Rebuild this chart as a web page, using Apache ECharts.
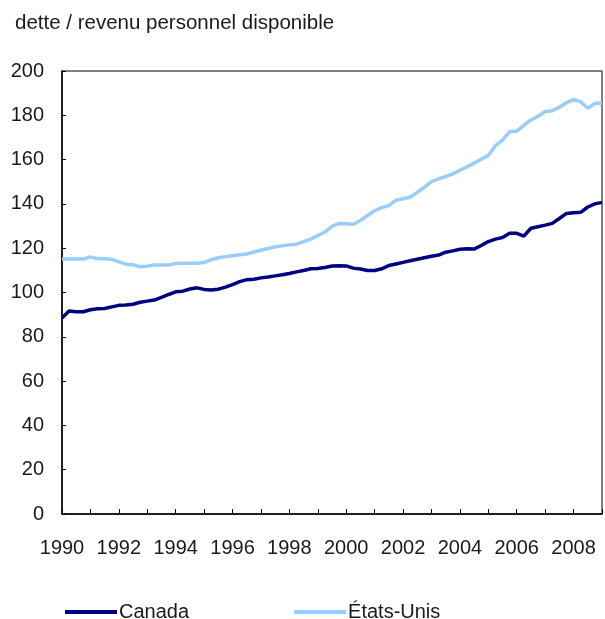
<!DOCTYPE html>
<html>
<head>
<meta charset="utf-8">
<script src="https://cdn.jsdelivr.net/npm/echarts@6/dist/echarts.min.js"></script>
<style>
  html, body { margin: 0; padding: 0; background: #fff; }
  #chart { width: 605px; height: 619px; }
</style>
</head>
<body>
<div id="chart"></div>
<script>
// Household debt as a share of personal disposable income, quarterly, 1990 Q1 to 2009 Q1
const startYear = 1990;
const seriesNames = ['Canada', 'États-Unis'];

const canada = [
  88.5, 91.6, 91.3, 91.3, 92.2, 92.7, 92.8, 93.5, 94.2, 94.4,
  94.7, 95.6, 96.1, 96.6, 97.8, 99.1, 100.3, 100.6, 101.6, 102.1,
  101.4, 101.1, 101.5, 102.4, 103.6, 104.9, 105.8, 106.0, 106.6, 107.0,
  107.5, 108.0, 108.6, 109.3, 109.9, 110.7, 110.8, 111.3, 112.0, 112.1,
  112.0, 111.0, 110.6, 109.9, 109.9, 110.7, 112.2, 112.9, 113.6, 114.3,
  115.0, 115.7, 116.4, 116.9, 118.2, 118.8, 119.5, 119.7, 119.6, 121.2,
  123.0, 124.1, 124.8, 126.7, 126.7, 125.5, 129.0, 129.7, 130.4, 131.2,
  133.4, 135.7, 136.0, 136.2, 138.6, 140.0, 140.7
];

const etatsUnis = [
  115.1, 115.1, 115.1, 115.1, 116.1, 115.3, 115.2, 115.0, 113.8, 112.8,
  112.5, 111.6, 111.9, 112.4, 112.4, 112.4, 113.1, 113.2, 113.2, 113.2,
  113.5, 114.8, 115.7, 116.2, 116.6, 117.0, 117.4, 118.3, 119.1, 119.9,
  120.6, 121.1, 121.5, 121.8, 123.0, 124.1, 125.7, 127.3, 129.9, 131.2,
  131.0, 130.8, 132.5, 134.8, 136.9, 138.3, 139.2, 141.7, 142.3, 143.0,
  145.2, 147.5, 150.1, 151.3, 152.4, 153.5, 155.2, 156.7, 158.4, 160.2,
  161.9, 166.3, 168.8, 172.6, 172.9, 175.4, 177.9, 179.6, 181.7, 182.1,
  183.6, 185.7, 187.1, 186.1, 183.2, 185.4, 185.4
];

const yTicks = [0, 20, 40, 60, 80, 100, 120, 140, 160, 180, 200];
const xLabelYears = [1990, 1992, 1994, 1996, 1998, 2000, 2002, 2004, 2006, 2008];

// quarter index -> fractional year
const toPairs = arr => arr.map((v, i) => [startYear + i / 4, v]);

const font = 'Liberation Sans, Arial, sans-serif';
const textColor = '#1a1a1a';

const chart = echarts.init(document.getElementById('chart'), null, { renderer: 'canvas' });
chart.setOption({
  animation: false,
  backgroundColor: '#fff',
  title: {
    text: 'dette / revenu personnel disponible',
    left: 10,
    top: 8,
    textStyle: { fontFamily: font, fontSize: 20.5, fontWeight: 'normal', color: textColor }
  },
  grid: {
    left: 62, top: 71, right: 2, bottom: 105,
    show: true, borderColor: '#000', borderWidth: 1, backgroundColor: 'transparent'
  },
  legend: {
    top: 597,
    left: 60,
    itemWidth: 52,
    itemHeight: 4,
    itemGap: 105,
    icon: 'rect',
    textStyle: { fontFamily: font, fontSize: 20, color: textColor, padding: [0, 0, 0, -3] },
    data: seriesNames
  },
  xAxis: {
    type: 'value',
    min: 1990,
    max: 2009,
    interval: 1,
    axisLine: { lineStyle: { color: '#000', width: 1.5 } },
    axisTick: { inside: true, length: 5, lineStyle: { color: '#000' } },
    splitLine: { show: false },
    axisLabel: {
      margin: 24,
      fontFamily: font, fontSize: 20, color: textColor,
      formatter: v => (xLabelYears.includes(v) ? String(v) : '')
    }
  },
  yAxis: {
    type: 'value',
    min: yTicks[0],
    max: yTicks[yTicks.length - 1],
    interval: 20,
    axisLine: { show: true, lineStyle: { color: '#000', width: 1.5 } },
    axisTick: { show: true, inside: true, length: 4, lineStyle: { color: '#000' } },
    splitLine: { show: false },
    axisLabel: { margin: 18, fontFamily: font, fontSize: 20, color: textColor }
  },
  series: [
    {
      name: seriesNames[0],
      type: 'line',
      data: toPairs(canada),
      showSymbol: false,
      lineStyle: { color: '#000080', width: 3.5 },
      itemStyle: { color: '#000080' },
      z: 3
    },
    {
      name: seriesNames[1],
      type: 'line',
      data: toPairs(etatsUnis),
      showSymbol: false,
      lineStyle: { color: '#99CCFF', width: 3.5 },
      itemStyle: { color: '#99CCFF' },
      z: 2
    }
  ]
});
</script>
</body>
</html>
